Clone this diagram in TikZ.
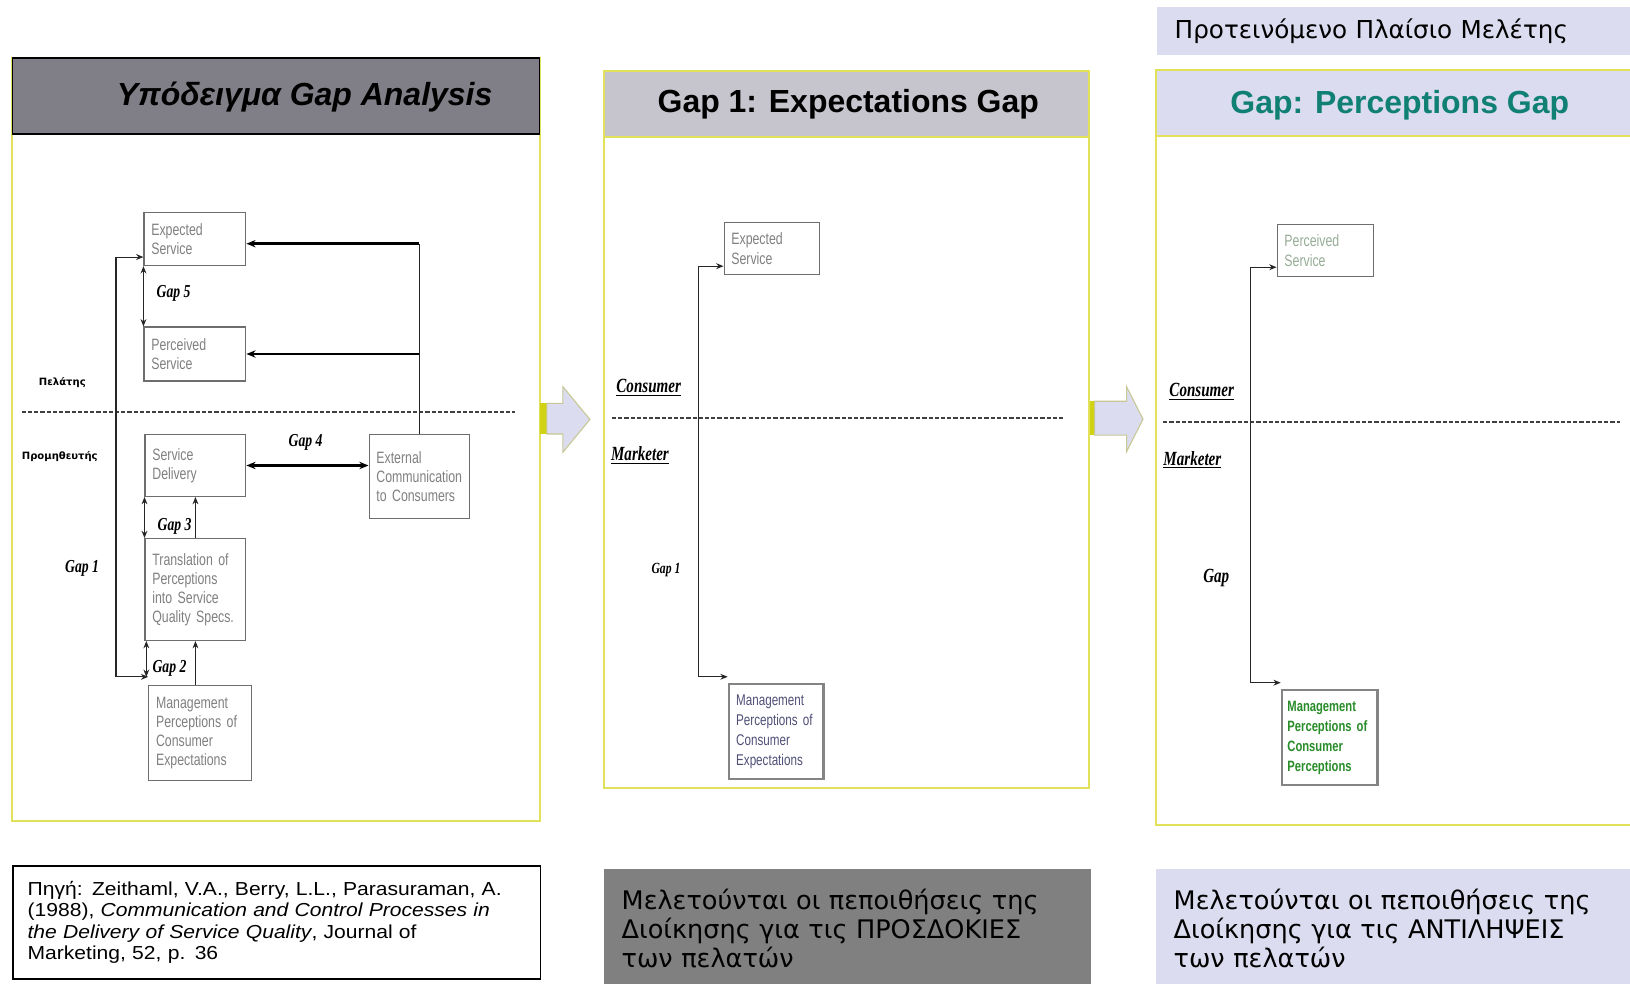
\documentclass[tikz,border=0pt]{standalone}
\usepackage{fontspec}
\setmainfont{Liberation Sans}
\newfontfamily\narrowsans[FakeStretch=0.75]{Liberation Sans}
\newfontfamily\narrowserif[FakeStretch=0.75]{Liberation Serif}
\newfontfamily\widesans[FakeStretch=1.12]{Liberation Sans}
\newfontfamily\verdanalike{DejaVu Sans}
\usetikzlibrary{arrows.meta,positioning,calc}

\definecolor{panelyellow}{RGB}{226,226,90}
\definecolor{titlegray}{RGB}{128,126,134}
\definecolor{barsilver}{RGB}{198,196,204}
\definecolor{lavender}{RGB}{220,220,240}
\definecolor{notegray}{RGB}{128,128,128}
\definecolor{titleteal}{RGB}{16,128,116}
\definecolor{boxedge}{RGB}{110,110,110}
\definecolor{boxtext}{RGB}{128,128,128}
\definecolor{slate}{RGB}{80,80,120}
\definecolor{leafgreen}{RGB}{40,140,40}
\definecolor{palegreen}{RGB}{150,172,150}
\definecolor{arrowyellow}{RGB}{210,210,20}
\definecolor{arrowedge}{RGB}{200,200,150}

% 1 unit = 1 px of the slide
\newcommand{\unitpx}{0.02cm}

\tikzset{
  boxsize/.style 2 args={minimum width={#1*\unitpx}, minimum height={#2*\unitpx}, text width={#1*\unitpx-8pt}},
  gapbox/.style={draw=boxedge, line width=0.6pt, anchor=north west, inner xsep=4pt, inner ysep=1pt,
    align=left, text=boxtext, font=\narrowsans\fontsize{9}{10.5}\selectfont},
  mgmtbox/.style={gapbox, draw=boxedge!85, line width=1.3pt, font=\narrowsans\fontsize{8.5}{10.9}\selectfont},
  gaplabel/.style={font=\narrowserif\bfseries\itshape\fontsize{10}{12}\selectfont, inner sep=0pt},
  sidelabel/.style={font=\narrowserif\bfseries\itshape\fontsize{11}{13}\selectfont, inner sep=0pt},
  rolelabel/.style={font=\verdanalike\bfseries\fontsize{5.5}{6.5}\selectfont, inner sep=0pt},
  link/.style={line width=0.6pt, draw=black!85},
  heavylink/.style={line width=1.5pt, draw=black, >={Stealth[length=5pt,width=4pt]}},
  divider/.style={line width=1.2pt, draw=black!75, dash pattern=on 2.3pt off 1.1pt},
  panel/.style={draw=panelyellow, line width=1.1pt},
  notebox/.style 2 args={anchor=north west, minimum width={#1*\unitpx}, minimum height={#2*\unitpx},
    inner xsep=9.5pt, text width={#1*\unitpx-19pt}, align=left},
}

\begin{document}
\begin{tikzpicture}[x=\unitpx, y=-\unitpx, >={Stealth[length=4pt,width=3.2pt]}]
  \useasboundingbox (0,0) rectangle (1568,946);
  \fill[white] (0,0) rectangle (1568,946);

  % ---- left panel: full gap model
  \draw[panel] (12,56) rectangle (519,790);
  \draw[fill=titlegray, draw=black, line width=0.8pt] (12,56) rectangle (519,129);
  \node[font=\bfseries\itshape\fontsize{17.5}{20}\selectfont] (modeltitle) at (293,93) {Υπόδειγμα Gap Analysis};

  \node[gapbox, boxsize={98}{51}] (exp) at (138,204) {Expected\\Service};
  \node[gapbox, boxsize={98}{52}] (per) at (138,314) {Perceived\\Service};
  \node[gapbox, boxsize={97}{59.5}] (deliv) at (139,417.5) {Service\\Delivery};
  \node[gapbox, boxsize={97}{80.5}] (ext) at (354.5,417.5) {External\\Communication\\to Consumers};
  \node[gapbox, boxsize={97}{98}] (trans) at (139,517.6) {Translation of\\Perceptions\\into Service\\Quality Specs.};
  \node[gapbox, boxsize={99}{91}] (mgmt) at (142.6,659) {Management\\Perceptions of\\Consumer\\Expectations};

  \node[gaplabel] (gapfive) at (167,282) {Gap 5};
  \node[gaplabel] (gapfour) at (294,426) {Gap 4};
  \node[gaplabel] (gapthree) at (168,506) {Gap 3};
  \node[gaplabel] (gaptwo) at (163,642.6) {Gap 2};
  \node[gaplabel] (gapone) at (79,546.6) {Gap 1};
  \node[rolelabel] (client) at (60,368) {Πελάτης};
  \node[rolelabel] (supplier) at (57.5,438.7) {Προμηθευτής};

  \draw[divider] (21,396) -- (495,396);

  \coordinate (feedtop) at ([yshift=-2.5pt]exp.east);
  \coordinate (g1) at (111.6,450);
  \coordinate (g1end) at ([yshift=4.5pt]mgmt.north west);
  \draw[link] (ext.north) -- (ext.north |- feedtop);
  \draw[heavylink,->] (ext.north |- feedtop) -- (feedtop);
  \draw[heavylink,->] (ext.north |- per.east) -- (per.east);
  \draw[heavylink,<->] (deliv.east) -- (deliv.east -| ext.west);
  \draw[link,<->] (exp.south west) -- (per.north west);
  \draw[link,<->] (deliv.south west) -- (trans.north west);
  \draw[link,->] (trans.north) -- (deliv.south);
  \draw[link,<->] ([xshift=1pt]trans.south west) -- ([xshift=1pt]trans.south west |- g1end);
  \draw[link,->] (trans.south |- mgmt.north) -- (trans.south);
  \draw[link,<->] ([yshift=5pt]exp.south west) -| (g1) |- (g1end);

  % block arrow to the middle panel
  \fill[arrowyellow] (519,388) rectangle (526,417.5);
  \draw[fill=lavender, draw=arrowedge, line width=0.6pt] (526,388) -- (541.5,388) -- (541.5,372)
    -- (567.5,403.5) -- (541.5,435) -- (541.5,417.5) -- (526,417.5) -- cycle;

  % ---- middle panel: gap 1
  \draw[panel] (581,68) rectangle (1047.6,758);
  \draw[fill=barsilver, draw=panelyellow, line width=1.1pt] (581,68) rectangle (1047.6,131.8);
  \node[font=\bfseries\fontsize{17.5}{20}\selectfont] (gapxtitle) at (816,100) {Gap 1: Expectations Gap};

  \node[gapbox, boxsize={92}{50}] (mexp) at (696,213.6) {Expected\\Service};
  \node[mgmtbox, boxsize={91}{91}, text=slate] (mmgmt) at (700,657) {Management\\Perceptions of\\Consumer\\Expectations};
  \node[sidelabel] (mcons) at (624,373) {\underline{Consumer}};
  \node[sidelabel] (mmark) at (615.6,438.6) {\underline{Marketer}};
  \node[gaplabel, font=\narrowserif\bfseries\itshape\fontsize{8.5}{10}\selectfont] (mgapone) at (640.6,548) {Gap 1};

  \draw[divider] (588.6,402) -- (1024,402);
  \coordinate (mgap) at (671.5,450);
  \draw[link,<->] ([yshift=4.9pt]mexp.south west) -| (mgap) |- ([yshift=3.4pt]mmgmt.north west);

  % block arrow to the right panel
  \fill[arrowyellow] (1048.5,386) rectangle (1053,418.5);
  \draw[fill=lavender, draw=arrowedge, line width=0.6pt] (1053,386) -- (1083.7,386) -- (1083.7,372)
    -- (1099.5,403.2) -- (1083.7,434.5) -- (1083.7,418.5) -- (1053,418.5) -- cycle;

  % ---- right panel: proposed frame
  \node[fill=lavender, notebox={470}{47}, font=\verdanalike\fontsize{13.5}{16}\selectfont] (frametag) at (1113,6) {Προτεινόμενο Πλαίσιο Μελέτης};
  \draw[panel] (1112,67) rectangle (1580,793.6);
  \draw[fill=lavender, draw=panelyellow, line width=1.1pt] (1112,67) rectangle (1580,131);
  \node[font=\bfseries\fontsize{17.5}{20}\selectfont, text=titleteal] (gaprtitle) at (1346.5,101) {Gap: Perceptions Gap};

  \node[gapbox, boxsize={92.6}{50}, text=palegreen] (rper) at (1228,215.5) {Perceived\\Service};
  \node[mgmtbox, boxsize={92}{91.3}, text=leafgreen, inner xsep=3pt, text width={92*\unitpx-6pt},
    font=\narrowsans\bfseries\fontsize{8.2}{10.9}\selectfont] (rmgmt) at (1232,662.7) {Management\\Perceptions of\\Consumer\\Perceptions};
  \node[sidelabel] (rcons) at (1156,376.8) {\underline{Consumer}};
  \node[sidelabel] (rmark) at (1147,442.5) {\underline{Marketer}};
  \node[gaplabel, font=\narrowserif\bfseries\itshape\fontsize{11}{13}\selectfont] (rgapone) at (1170,556) {Gap};

  \draw[divider] (1119,405.6) -- (1558,405.6);
  \coordinate (rgap) at (1203,450);
  \draw[link,<->] ([yshift=5.4pt]rper.south west) -| (rgap) |- ([yshift=3.4pt]rmgmt.north west);

  % ---- notes along the bottom
  \node[draw=black, line width=1pt, notebox={507}{109}, inner xsep=7.8pt, text width={507*\unitpx-15.6pt},
    font=\widesans\fontsize{10.3}{11.8}\selectfont] (source) at (12,832)
    {Πηγή: Zeithaml, V.A., Berry, L.L., Parasuraman, A.\\
     (1988), \textit{Communication and Control Processes in}\\
     \textit{the Delivery of Service Quality}, Journal of\\
     Marketing, 52, p. 36};
  \node[fill=notegray, notebox={468}{114}, font=\verdanalike\fontsize{14}{16}\selectfont] (notexp) at (581,836)
    {Μελετούνται οι πεποιθήσεις της\\Διοίκησης για τις ΠΡΟΣΔΟΚΙΕΣ\\των πελατών};
  \node[fill=lavender, notebox={470}{114}, font=\verdanalike\fontsize{14}{16}\selectfont] (noteper) at (1112,836)
    {Μελετούνται οι πεποιθήσεις της\\Διοίκησης για τις ΑΝΤΙΛΗΨΕΙΣ\\των πελατών};
\end{tikzpicture}
\end{document}
